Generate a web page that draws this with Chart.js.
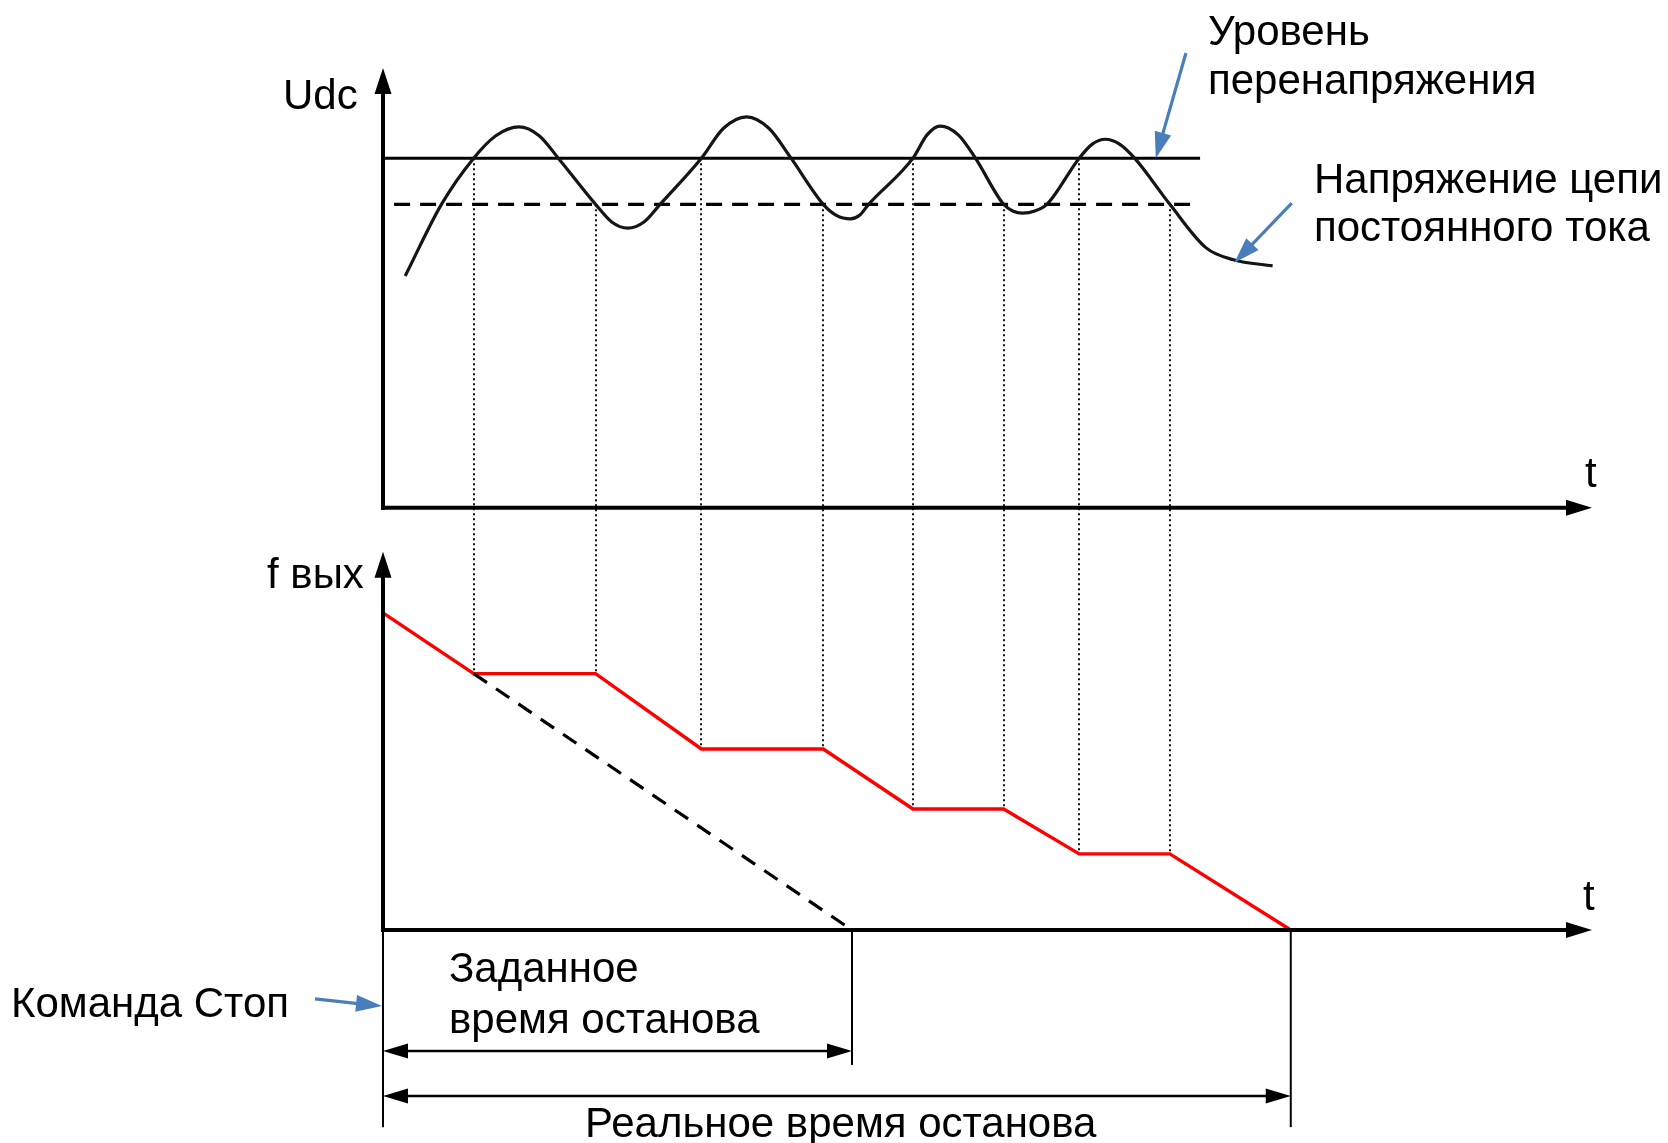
<!DOCTYPE html>
<html>
<head>
<meta charset="utf-8">
<script src="https://cdn.jsdelivr.net/npm/chart.js@4"></script>
<style>
html,body{margin:0;padding:0;background:#fff;overflow:hidden}
canvas{display:block}
</style>
</head>
<body>
<canvas id="c" width="1668" height="1143"></canvas>
<script>
// ---- data (time in arbitrary units, values in arbitrary units) ----
const udcTime  = [0.22,0.58,0.90,1.12,1.35,1.55,1.74,2.11,2.27,2.43,2.59,2.75,3.16,3.38,3.61,3.83,4.05,4.37,4.50,4.64,4.73,4.82,5.26,5.40,5.53,5.71,5.88,6.16,6.25,6.35,6.47,6.59,6.91,7.04,7.17,7.31,7.46,7.81,8.17,8.44,8.83];
const udcValue = [5.27,6.90,7.95,8.46,8.66,8.46,7.95,6.90,6.50,6.36,6.50,6.90,7.95,8.63,8.89,8.63,7.95,6.90,6.65,6.57,6.65,6.90,7.95,8.48,8.68,8.48,7.95,6.90,6.75,6.70,6.75,6.90,7.95,8.27,8.38,8.27,7.95,6.90,5.91,5.64,5.50];
const overLevel = 7.95, overStart = 0.00, overEnd = 8.11;
const lowLevel  = 6.90, lowStart  = 0.11, lowEnd  = 8.11;
const freqTime  = [0.00,0.90,2.11,3.16,4.37,5.26,6.16,6.91,7.81,9.01];
const freqValue = [8.46,6.84,6.84,4.83,4.83,3.23,3.23,2.03,2.03,0.00];
const setRampTime  = [0.90,4.655];
const setRampValue = [6.84,0.00];
const upCross   = [0.90,3.16,5.26,6.91];   // Udc rises through overvoltage level
const downCross = [2.11,4.37,6.16,7.81];   // Udc falls through lower level
const setStopTime  = 4.655;
const realStopTime = 9.01;

const pts = (xs, ys) => xs.map((x, i) => ({x, y: ys[i]}));
const FONT = '42px "Liberation Sans", Arial, sans-serif';

function fAt(t){
  for (let i = 0; i < freqTime.length - 1; i++) {
    if (t >= freqTime[i] && t <= freqTime[i+1]) {
      const k = (t - freqTime[i]) / (freqTime[i+1] - freqTime[i]);
      return freqValue[i] + k * (freqValue[i+1] - freqValue[i]);
    }
  }
  return 0;
}

function arrowHead(ctx, x1, y1, x2, y2, len, half, color){
  const a = Math.atan2(y2 - y1, x2 - x1);
  ctx.save();
  ctx.fillStyle = color;
  ctx.beginPath();
  ctx.moveTo(x2, y2);
  ctx.lineTo(x2 - len*Math.cos(a) + half*Math.sin(a), y2 - len*Math.sin(a) - half*Math.cos(a));
  ctx.lineTo(x2 - len*Math.cos(a) - half*Math.sin(a), y2 - len*Math.sin(a) + half*Math.cos(a));
  ctx.closePath();
  ctx.fill();
  ctx.restore();
}
function line(ctx, x1, y1, x2, y2, w, color, dash){
  ctx.save();
  ctx.strokeStyle = color; ctx.lineWidth = w;
  ctx.setLineDash(dash || []);
  ctx.beginPath(); ctx.moveTo(x1, y1); ctx.lineTo(x2, y2); ctx.stroke();
  ctx.restore();
}
function arrow(ctx, x1, y1, x2, y2, w, len, half, color){
  const a = Math.atan2(y2 - y1, x2 - x1);
  line(ctx, x1, y1, x2 - (len-2)*Math.cos(a), y2 - (len-2)*Math.sin(a), w, color);
  arrowHead(ctx, x1, y1, x2, y2, len, half, color);
}

const labels = [
  {text: 'Udc', x: 283, y: 109},
  {text: 'f вых', x: 267, y: 588},
  {text: 't', x: 1585, y: 487},
  {text: 't', x: 1583, y: 910},
  {text: 'Уровень', x: 1208, y: 45},
  {text: 'перенапряжения', x: 1208, y: 94},
  {text: 'Напряжение цепи', x: 1314, y: 193},
  {text: 'постоянного тока', x: 1314, y: 241},
  {text: 'Команда Стоп', x: 11, y: 1017},
  {text: 'Заданное', x: 449, y: 982},
  {text: 'время останова', x: 449, y: 1033},
  {text: 'Реальное время останова', x: 585, y: 1137}
];
// callout arrows in data units: [t, value] on given axis
const callouts = [
  {axis: 'yU', from: [7.97, 10.34], to: [7.67, 7.95]},
  {axis: 'yU', from: [9.02, 6.93],  to: [8.45, 5.57]},
  {axis: 'yF', from: [-0.675, -1.84], to: [-0.01, -2.03]}
];

const deco = {
  id: 'deco',
  beforeDatasetsDraw(chart){
    const ctx = chart.ctx, X = chart.scales.x, U = chart.scales.yU, F = chart.scales.yF;
    const px = t => Math.round(X.getPixelForValue(t));
    upCross.forEach(t => line(ctx, px(t), U.getPixelForValue(overLevel), px(t), F.getPixelForValue(fAt(t)), 2, '#111', [2, 3]));
    downCross.forEach(t => line(ctx, px(t), U.getPixelForValue(lowLevel), px(t), F.getPixelForValue(fAt(t)), 2, '#111', [2, 3]));
  },
  afterDatasetsDraw(chart){
    const ctx = chart.ctx, X = chart.scales.x, U = chart.scales.yU, F = chart.scales.yF;
    const x0 = X.getPixelForValue(0), xEnd = X.getPixelForValue(12);
    // top axes
    const u0 = U.getPixelForValue(0), uTop = U.getPixelForValue(10);
    line(ctx, x0, u0 + 2, x0, uTop + 22, 4, '#000');
    arrowHead(ctx, x0, u0, x0, uTop, 26, 8.5, '#000');
    line(ctx, x0 - 2, u0, xEnd - 22, u0, 4, '#000');
    arrowHead(ctx, x0, u0, xEnd, u0, 26, 8, '#000');
    // bottom axes
    const f0 = F.getPixelForValue(0), fTop = F.getPixelForValue(10.09);
    line(ctx, x0, f0 + 2, x0, fTop + 22, 4, '#000');
    arrowHead(ctx, x0, f0, x0, fTop, 26, 8.5, '#000');
    line(ctx, x0 - 2, f0, xEnd - 22, f0, 4, '#000');
    arrowHead(ctx, x0, f0, xEnd, f0, 26, 8, '#000');
    // stop markers
    const yLow = F.getPixelForValue(-5.26);
    line(ctx, x0, f0, x0, yLow, 2, '#000');
    const xs = X.getPixelForValue(setStopTime), xr = X.getPixelForValue(realStopTime);
    line(ctx, xs, f0, xs, F.getPixelForValue(-3.60), 2, '#000');
    line(ctx, xr, f0, xr, yLow, 2, '#000');
    // dimension arrows
    const d1 = F.getPixelForValue(-3.23), d2 = F.getPixelForValue(-4.43);
    line(ctx, x0 + 20, d1, xs - 20, d1, 2.4, '#000');
    arrowHead(ctx, xs, d1, x0, d1, 25, 7.5, '#000');
    arrowHead(ctx, x0, d1, xs, d1, 25, 7.5, '#000');
    line(ctx, x0 + 20, d2, xr - 20, d2, 2.4, '#000');
    arrowHead(ctx, xr, d2, x0, d2, 25, 7.5, '#000');
    arrowHead(ctx, x0, d2, xr, d2, 25, 7.5, '#000');
    // callouts
    callouts.forEach(c => {
      const S = chart.scales[c.axis];
      arrow(ctx, X.getPixelForValue(c.from[0]), S.getPixelForValue(c.from[1]),
                 X.getPixelForValue(c.to[0]), S.getPixelForValue(c.to[1]), 3.2, 26, 8.5, '#4a7ebb');
    });
    // labels
    ctx.save();
    ctx.font = FONT; ctx.fillStyle = '#000'; ctx.textBaseline = 'alphabetic'; ctx.textAlign = 'left';
    labels.forEach(l => ctx.fillText(l.text, l.x, l.y));
    ctx.restore();
  }
};

new Chart(document.getElementById('c'), {
  type: 'line',
  data: {
    datasets: [
      {label: 'Udc', data: pts(udcTime, udcValue), yAxisID: 'yU', borderColor: '#151515', borderWidth: 3.2,
       cubicInterpolationMode: 'monotone', pointRadius: 0, fill: false, clip: false},
      {label: 'Уровень перенапряжения', data: pts([overStart, overEnd], [overLevel, overLevel]), yAxisID: 'yU',
       borderColor: '#000', borderWidth: 3, pointRadius: 0, clip: false},
      {label: 'Нижний уровень', data: pts([lowStart, lowEnd], [lowLevel, lowLevel]), yAxisID: 'yU',
       borderColor: '#000', borderWidth: 3.2, borderDash: [16, 10], pointRadius: 0, clip: false},
      {label: 'Заданное торможение', data: pts(setRampTime, setRampValue), yAxisID: 'yF',
       borderColor: '#000', borderWidth: 3.2, borderDash: [16, 11], pointRadius: 0, clip: false},
      {label: 'f вых', data: pts(freqTime, freqValue), yAxisID: 'yF', borderColor: '#ff0000', borderWidth: 3.4,
       tension: 0, pointRadius: 0, clip: false}
    ]
  },
  options: {
    responsive: false,
    animation: false,
    devicePixelRatio: 1,
    layout: {padding: {left: 383, right: 76, top: 68, bottom: 213}},
    plugins: {legend: {display: false}, tooltip: {enabled: false}, title: {display: false}},
    scales: {
      x:  {type: 'linear', min: 0, max: 12, display: false},
      yU: {type: 'linear', min: -9.6, max: 10, display: false},
      yF: {type: 'linear', min: 0, max: 23, display: false}
    }
  },
  plugins: [deco]
});
</script>
</body>
</html>
